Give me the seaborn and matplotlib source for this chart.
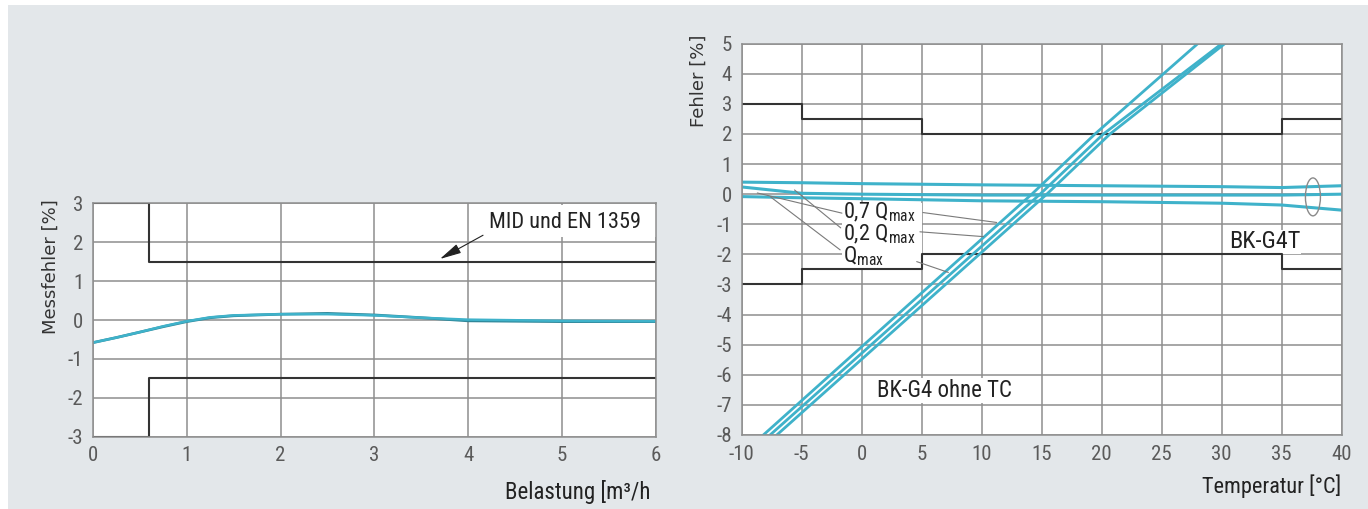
import matplotlib
matplotlib.use("Agg")
import matplotlib.pyplot as plt
from matplotlib.patches import Rectangle, Ellipse
import seaborn as sns

# left chart: Messfehler vs Belastung
load = [0, 0.25, 0.5, 0.75, 1.0, 1.25, 1.5, 2.0, 2.5, 3.0, 3.5, 4.0, 5.0, 6.0]
err_light = [-0.58, -0.45, -0.31, -0.16, -0.03, 0.07, 0.12, 0.15, 0.15, 0.12, 0.06, 0.01, -0.02, -0.03]
err_dark = [-0.58, -0.45, -0.31, -0.17, -0.04, 0.06, 0.11, 0.15, 0.17, 0.13, 0.06, -0.02, -0.04, -0.04]
mid_x = [0, 0.6, 6]
mid_upper = [3, 1.5, 1.5]
mid_lower = [-3, -1.5, -1.5]

# right chart: Fehler vs Temperatur
lim_x = [-10, -5, 5, 35, 40]
lim_upper = [3, 2.5, 2, 2.5, 2.5]
lim_lower = [-3, -2.5, -2, -2.5, -2.5]
g4t_temp = [-10, -5, 0, 10, 20, 30, 35, 40]
g4t_07 = [0.40, 0.38, 0.35, 0.31, 0.28, 0.25, 0.22, 0.28]
g4t_02 = [0.24, 0.03, 0.0, -0.03, -0.03, -0.03, -0.03, 0.0]
g4t_q = [-0.08, -0.12, -0.15, -0.22, -0.25, -0.30, -0.36, -0.53]
g4_err = [-8, 0, 2, 5]
g4_07_temp = [-8.2, 14.17, 19.44, 28.0]
g4_02_temp = [-7.64, 14.86, 20.14, 30.0]
g4_q_temp = [-7.08, 15.42, 20.69, 30.25]

sns.set_theme(style="white")
narrow = ["Roboto Condensed", "Roboto", "DejaVu Sans"]
plt.rcParams["font.family"] = narrow
plt.rcParams["axes.unicode_minus"] = False
plt.rcParams["mathtext.fontset"] = "custom"
plt.rcParams["mathtext.rm"] = "Roboto Condensed"

CYAN = "#3fb2ca"
TEAL = "#2f8799"
GRID = "#8e8e8e"
LIMIT = "#333333"
TICK = "#5a5a5a"

fig = plt.figure(figsize=(13.68, 5.09), dpi=100)
fig.add_artist(Rectangle((8 / 1368, 0), 1, 1 - 5 / 509, transform=fig.transFigure,
                         fc="#e3e7ea", ec="none", zorder=-10))

ax1 = fig.add_axes([0.068, 0.142, 0.4112, 0.4585])
ax2 = fig.add_axes([0.5422, 0.1454, 0.4386, 0.7688])

for ax in (ax1, ax2):
    ax.set_facecolor("white")
    ax.set_axisbelow(True)
    ax.grid(True, color=GRID, lw=1.1)
    ax.tick_params(length=0, pad=7, labelsize=15, labelcolor=TICK)
    for s in ax.spines.values():
        s.set_color(GRID)
        s.set_linewidth(1.1)

# ---- left
sns.lineplot(x=mid_x, y=mid_upper, ax=ax1, color=LIMIT, lw=1.5, drawstyle="steps-post")
sns.lineplot(x=mid_x, y=mid_lower, ax=ax1, color=LIMIT, lw=1.5, drawstyle="steps-post")
sns.lineplot(x=load, y=err_dark, ax=ax1, color=TEAL, lw=2.0)
sns.lineplot(x=load, y=err_light, ax=ax1, color=CYAN, lw=1.8)
ax1.set_xlim(0, 6)
ax1.set_ylim(-3, 3)
ax1.set_xticks(range(0, 7))
ax1.set_yticks(range(-3, 4))
ax1.set_xlabel("")
ax1.set_ylabel("")
ax1.add_patch(Rectangle((4.1, 2.13), 1.9, 0.82, fc="white", ec="none", zorder=1.5))
ax1.text(4.22, 2.5, "MID und EN 1359", fontsize=16, va="center", color="#222", zorder=3)
ax1.annotate("", xy=(3.70, 1.57), xytext=(4.16, 2.18),
             arrowprops=dict(arrowstyle="-|>,head_length=1.1,head_width=0.25",
                             color="#222", lw=0.8, shrinkA=0, shrinkB=0))
ax1.text(-0.076, 0.73, "Messfehler [%]", transform=ax1.transAxes, rotation=90,
         ha="center", va="center", fontsize=13, color="#333", family=["DejaVu Sans"])
ax1.text(0.99, -0.237, "Belastung [m³/h", transform=ax1.transAxes, ha="right",
         va="center", fontsize=16.5, color="#222")

# ---- right
sns.lineplot(x=lim_x, y=lim_upper, ax=ax2, color=LIMIT, lw=1.5, drawstyle="steps-post")
sns.lineplot(x=lim_x, y=lim_lower, ax=ax2, color=LIMIT, lw=1.5, drawstyle="steps-post")
for ys in (g4t_07, g4t_02, g4t_q):
    sns.lineplot(x=g4t_temp, y=ys, ax=ax2, color=CYAN, lw=2.2)
for xs in (g4_07_temp, g4_02_temp, g4_q_temp):
    sns.lineplot(x=xs, y=g4_err, ax=ax2, color=CYAN, lw=2.0, sort=False)
ax2.set_xlim(-10, 40)
ax2.set_ylim(-8, 5)
ax2.set_xticks(range(-10, 41, 5))
ax2.set_yticks(range(-8, 6))
ax2.set_xlabel("")
ax2.set_ylabel("")

ax2.add_patch(Rectangle((-1.67, -2.5), 6.67, 2.2, fc="white", ec="none", zorder=1.5))
leaders = [((-8.7, 0.04), (-1.65, -0.63)),
           ((-5.6, 0.14), (-1.75, -1.12)),
           ((-7.6, -0.09), (-1.8, -1.85)),
           ((5.1, -0.61), (11.25, -0.94)),
           ((4.85, -1.25), (10.14, -1.41)),
           ((4.58, -2.24), (7.22, -2.6))]
for (x0, y0), (x1, y1) in leaders:
    ax2.plot([x0, x1], [y0, y1], color="#7a7a7a", lw=0.8, zorder=2)
qstyle = dict(fontsize=16, va="baseline", color="#222", zorder=3)
ax2.text(-1.6, -0.80, r"0,7 Q$_{\mathrm{max}}$", **qstyle)
ax2.text(-1.6, -1.53, r"0,2 Q$_{\mathrm{max}}$", **qstyle)
ax2.text(-1.6, -2.27, r"Q$_{\mathrm{max}}$", **qstyle)
ax2.add_patch(Ellipse((37.6, -0.09), 1.25, 1.26, fill=False, ec="#8a8a8a", lw=1.0, zorder=3))
ax2.text(30.6, -1.58, "BK-G4T", fontsize=17.5, va="center", color="#222", zorder=1.8,
         bbox=dict(fc="white", ec="none", pad=0.5))
ax2.text(1.25, -6.52, "BK-G4 ohne TC", fontsize=16.5, va="center", color="#222", zorder=1.8,
         bbox=dict(fc="white", ec="none", pad=0.5))
ax2.text(-0.071, 0.905, "Fehler [%]", transform=ax2.transAxes, rotation=90,
         ha="center", va="center", fontsize=13, color="#333", family=["DejaVu Sans"])
ax2.text(0.999, -0.13, "Temperatur [°C]", transform=ax2.transAxes, ha="right",
         va="center", fontsize=16, color="#222")

fig.savefig("out.png", dpi=100)
